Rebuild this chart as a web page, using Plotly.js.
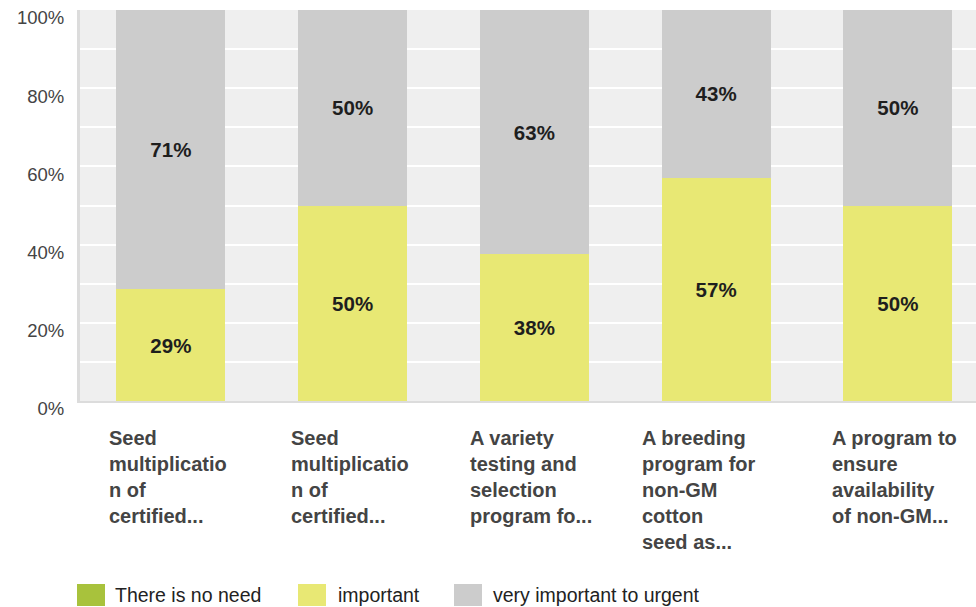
<!DOCTYPE html>
<html><head><meta charset="utf-8">
<script src="https://cdn.plot.ly/plotly-3.0.1.min.js"></script>
<style>html,body{margin:0;padding:0;background:#fff;overflow:hidden}#chart{width:976px;height:607px}</style>
</head><body><div id="chart"></div>
<script>
const categories = [
  "Seed<br>multiplicatio<br>n of<br>certified...",
  "Seed<br>multiplicatio<br>n of<br>certified...",
  "A variety<br>testing and<br>selection<br>program fo...",
  "A breeding<br>program for<br>non-GM<br>cotton<br>seed as...",
  "A program to<br>ensure<br>availability<br>of non-GM..."
];
const seriesNames = ["There is no need", "important", "very important to urgent"];
const noNeed = [0, 0, 0, 0, 0];
const important = [28.6, 50, 37.5, 57.1, 50];
const veryImportant = [71.4, 50, 62.5, 42.9, 50];
const colors = ["#a8c23c", "#e8e874", "#cccccc"];
const yTicks = [0, 20, 40, 60, 80, 100];

// layout-only tweaks (label horizontal nudges, px)
const labelShift = [-3, -3, -3, -17, -3];

const idx = categories.map((_, i) => i);
const values = [noNeed, important, veryImportant];
const traces = values.map((v, k) => ({
  type: "bar", x: idx, y: v, name: seriesNames[k],
  marker: {color: colors[k], line: {width: 0}},
  width: 0.6,
  text: v.map(val => val > 0 ? Math.round(val) + "%" : ""),
  texttemplate: "%{text}",
  textposition: "inside", insidetextanchor: "middle",
  textfont: {family: "Liberation Sans, Arial, sans-serif", size: 20.5, color: "#1e1e1e", weight: "bold"},
  hoverinfo: "skip", showlegend: false
}));

const annotations = categories.map((c, i) => ({
  x: i, y: 0, xref: "x", yref: "y", yanchor: "top", xanchor: "center", align: "left",
  yshift: -24, xshift: labelShift[i], showarrow: false, text: c,
  font: {family: "Liberation Sans, Arial, sans-serif", size: 20, color: "#444", weight: "bold"}
}));

// custom legend
const L = 80, W = 896, B = 401, H = 391;
const px = p => (p - L) / W, py = p => (B - p) / H;
const legendItems = [{x0: 77, tx: 113}, {x0: 298, tx: 336}, {x0: 454, tx: 491}];
const shapes = [];
legendItems.forEach((it, k) => {
  shapes.push({type: "rect", xref: "paper", yref: "paper",
    x0: px(it.x0), x1: px(it.x0 + 28), y0: py(606), y1: py(584),
    fillcolor: colors[k], line: {width: 0}});
  annotations.push({xref: "paper", yref: "paper", x: px(it.tx), y: py(595), xanchor: "left", yanchor: "middle",
    showarrow: false, text: seriesNames[k],
    font: {family: "Liberation Sans, Arial, sans-serif", size: 19.5, color: "#222"}});
});

const layout = {
  width: 976, height: 607,
  margin: {l: L, r: 0, t: 10, b: 206},
  paper_bgcolor: "#ffffff", plot_bgcolor: "#efefef",
  barmode: "stack",
  showlegend: false,
  xaxis: {range: [-0.5, 4.43], showticklabels: false, showgrid: false, zeroline: false,
    showline: true, linecolor: "#dcdcdc", linewidth: 2, fixedrange: true},
  yaxis: {range: [0, 100], tickvals: yTicks, ticktext: yTicks.map(t => t + "%"),
    showgrid: true, gridcolor: "#ffffff", gridwidth: 2,
    minor: {dtick: 10, showgrid: true, gridcolor: "#ffffff", gridwidth: 2},
    zeroline: false, showline: true, linecolor: "#dcdcdc", linewidth: 3,
    ticks: "", ticklabelstandoff: 9, ticklabelshift: 8,
    tickfont: {family: "Liberation Sans, Arial, sans-serif", size: 18.5, color: "#444"}},
  annotations, shapes
};
Plotly.newPlot("chart", traces, layout, {displayModeBar: false, staticPlot: true});
</script></body></html>
